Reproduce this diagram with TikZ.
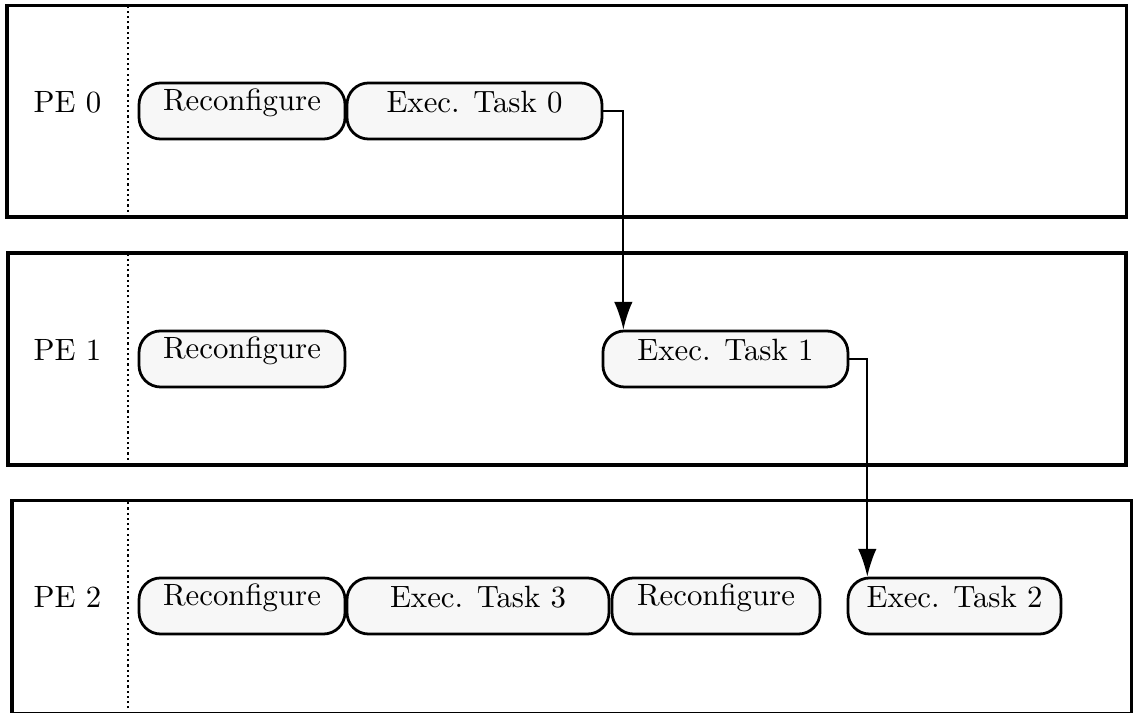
\documentclass[tikz,border=0pt]{standalone}
\usetikzlibrary{arrows.meta}

\tikzset{
  task/.style={draw,line width=0.9pt,rounded corners=7pt,fill=black!3,inner xsep=0pt,inner ysep=0pt,minimum height=18.2pt},
  recfg/.style={task,text height=8.8pt,text depth=9.4pt},
  exec/.style={task,text height=9.7pt,text depth=8.5pt},
  flow/.style={semithick,-{Latex[length=9pt,width=6pt]}},
}

\begin{document}
\begin{tikzpicture}
\useasboundingbox (0,0) rectangle (12.953,8.137);

% PE 0
\begin{scope}[shift={(0,5.660)}]
\draw[line width=1pt] (0.080,0) rectangle (12.861,2.419);
\draw[line width=0.7pt,densely dotted] (1.461,0) -- (1.461,2.419);
\node[anchor=base] (pe0) at (0.770,1.198) {PE 0};
\node[recfg,minimum width=2.351cm] (r0) at (2.762,1.210) {Reconfigure};
\node[exec,minimum width=2.910cm] (t0) at (5.415,1.210) {Exec. Task 0};
\end{scope}

% PE 1
\begin{scope}[shift={(0,2.830)}]
\draw[line width=1pt] (0.091,0) rectangle (12.850,2.419);
\draw[line width=0.7pt,densely dotted] (1.461,0) -- (1.461,2.419);
\node[anchor=base] (pe1) at (0.770,1.198) {PE 1};
\node[recfg,minimum width=2.351cm] (r1) at (2.762,1.210) {Reconfigure};
\node[exec,minimum width=2.796cm] (t1) at (8.279,1.210) {Exec. Task 1};
\end{scope}

% PE 2 (cut off at the bottom)
\begin{scope}[shift={(0,-0.008)}]
\draw[line width=1pt] (0.137,0) rectangle (12.918,2.438);
\draw[line width=0.7pt,densely dotted] (1.461,0) -- (1.461,2.438);
\node[anchor=base] (pe2) at (0.770,1.217) {PE 2};
\node[recfg,minimum width=2.351cm] (r2) at (2.762,1.229) {Reconfigure};
\node[exec,minimum width=2.990cm] (t3) at (5.455,1.229) {Exec. Task 3};
\node[recfg,minimum width=2.374cm] (r3) at (8.171,1.229) {Reconfigure};
\node[exec,minimum width=2.431cm] (t2) at (10.893,1.229) {Exec. Task 2};
\end{scope}

% dependencies
\draw[flow] (t0.east) -- ++(0.228,0) coordinate (k0) -- (k0 |- t1.north);
\draw[flow] (t1.east) -- ++(0.205,0) coordinate (k1) -- (k1 |- t2.north);
\end{tikzpicture}
\end{document}
